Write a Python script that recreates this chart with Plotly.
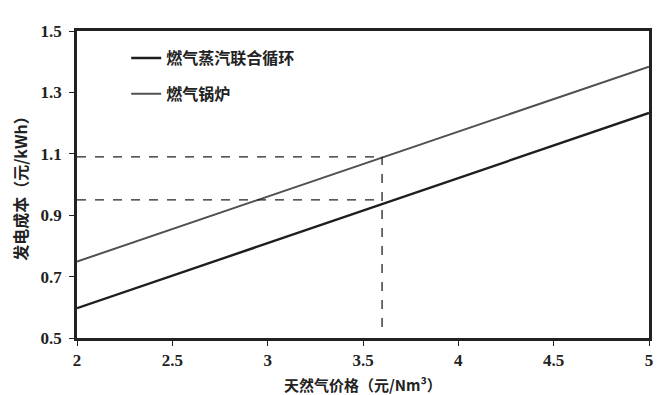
import plotly.graph_objects as go

price = [2, 5]
ccgt_cost = [0.597, 1.233]     # 燃气蒸汽联合循环
boiler_cost = [0.749, 1.384]   # 燃气锅炉
ref_price = 3.6
ref_costs = [1.09, 0.95]
ref_bottom = 0.536
x_ticks = [2, 2.5, 3, 3.5, 4, 4.5, 5]
y_ticks = [0.5, 0.7, 0.9, 1.1, 1.3, 1.5]
x_title = "天然气价格（元/Nm³）"
y_title = "发电成本（元/kWh）"

serif = "Liberation Serif"
cjk = "Noto Sans CJK SC"

fig = go.Figure()
fig.add_trace(go.Scatter(x=price, y=ccgt_cost, mode="lines", name="燃气蒸汽联合循环",
                         line=dict(color="#1e1e1e", width=2.4), legendgroup="a"))
fig.add_trace(go.Scatter(x=price, y=boiler_cost, mode="lines", name="燃气锅炉",
                         line=dict(color="#505050", width=2), legendgroup="b"))
for c in ref_costs:
    fig.add_trace(go.Scatter(x=[price[0], ref_price], y=[c, c], mode="lines", showlegend=False,
                             line=dict(color="#222222", width=1.3, dash="dash")))
fig.add_trace(go.Scatter(x=[ref_price, ref_price], y=[ref_bottom, max(ref_costs)], mode="lines",
                         showlegend=False, line=dict(color="#222222", width=1.3, dash="dash")))

fig.add_annotation(text=x_title, xref="paper", yref="paper", x=0.5, y=-0.15,
                   xanchor="center", yanchor="middle", showarrow=False,
                   font=dict(family=cjk, size=15, color="#222222", weight="bold"))

# the page body adds an 8px margin, so the figure is 8px smaller and shifted
fig.update_layout(
    width=659, height=387,
    margin=dict(l=69, r=18, t=23, b=57),
    paper_bgcolor="white", plot_bgcolor="white",
    font=dict(family=serif, size=17, color="#222222"),
    showlegend=True,
    legend=dict(x=0.086, y=0.967, xanchor="left", yanchor="top",
                bgcolor="rgba(0,0,0,0)", traceorder="grouped", tracegroupgap=12,
                font=dict(family=cjk, size=16, color="#222222", weight="bold"),
                itemwidth=30),
    xaxis=dict(range=[2, 5], tickvals=x_ticks, ticktext=[f"<b>{v}</b>" for v in x_ticks],
               showgrid=False, zeroline=False, showline=True, linecolor="#222222",
               linewidth=2.5, mirror=True, ticks="outside", ticklen=5, tickcolor="#222222",
               tickfont=dict(family=serif, size=17, color="#222222"),
               automargin=False),
    yaxis=dict(range=[0.5, 1.5], tickvals=y_ticks, ticktext=[f"<b>{v:.1f}</b>" for v in y_ticks],
               showgrid=False, zeroline=False, showline=True, linecolor="#222222",
               linewidth=2.5, mirror=True, ticks="outside", ticklen=5, tickcolor="#222222",
               tickfont=dict(family=serif, size=17, color="#222222"),
               ticklabelstandoff=4, automargin=False,
               title=dict(text=y_title, standoff=16,
                          font=dict(family=cjk, size=16, weight="bold"))),
)
fig.write_html("out.html")
